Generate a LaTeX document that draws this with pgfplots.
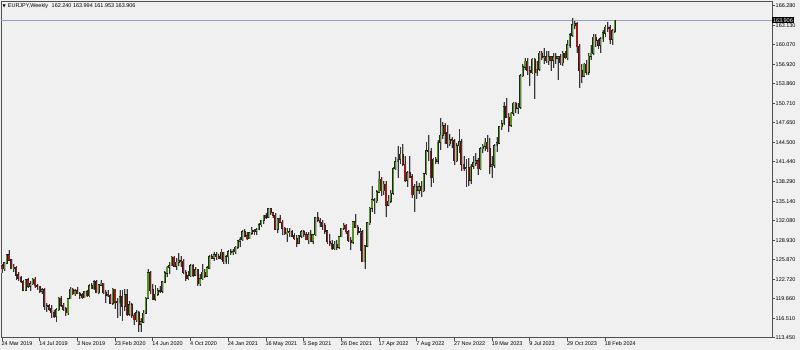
\documentclass[border=0pt]{standalone}
\usepackage{fontspec}
\setmainfont{Liberation Sans}
\newfontfamily\dejavu{DejaVu Sans}
\usepackage{pgfplots}
\usepackage{pgfplotstable}
\pgfplotsset{compat=1.18}

\definecolor{bgcol}{RGB}{240,240,240}
\definecolor{bull}{RGB}{80,152,30}
\definecolor{bear}{RGB}{160,24,24}
\definecolor{wickcol}{RGB}{55,55,55}
\definecolor{halocol}{RGB}{185,185,185}
\definecolor{outcol}{RGB}{35,35,35}
\definecolor{framecol}{RGB}{80,80,80}
\definecolor{pricecol}{RGB}{145,160,190}

\pgfplotstableread{
i o h l c
0 124.9 125.2 123.7 124.4
1 124.4 125.5 124.0 125.3
2 125.3 126.7 125.1 126.6
3 126.6 127.4 125.6 125.8
4 125.8 126.0 124.3 124.4
5 124.4 125.1 123.9 124.6
6 124.6 124.8 122.6 123.4
7 123.4 123.8 122.5 122.9
8 122.9 123.2 122.2 122.4
9 122.4 122.6 120.8 121.0
10 121.0 122.8 120.9 122.6
11 122.6 122.9 121.4 121.6
12 121.6 122.4 120.8 122.0
13 122.0 122.9 121.8 122.7
14 122.7 123.1 121.4 121.7
15 121.7 122.0 121.0 121.6
16 121.6 121.7 120.6 120.8
17 120.8 121.4 120.3 121.0
18 121.0 121.3 117.9 118.4
19 118.4 119.0 117.5 118.5
20 118.5 118.8 117.6 118.0
21 118.0 118.6 116.6 117.4
22 117.4 117.9 116.6 116.8
23 116.8 118.1 115.9 117.9
24 117.9 119.9 117.6 119.7
25 119.7 120.0 118.3 118.6
26 118.6 118.9 117.7 118.0
27 118.0 118.3 116.9 117.4
28 117.4 119.8 117.0 119.6
29 119.6 121.5 119.5 121.1
30 121.1 121.4 120.2 120.4
31 120.4 121.2 120.1 120.9
32 120.9 121.5 120.3 120.4
33 120.4 120.7 119.6 120.2
34 120.2 120.5 119.6 119.8
35 119.8 120.9 119.7 120.7
36 120.7 121.0 119.9 120.1
37 120.1 122.0 119.9 121.7
38 121.7 122.2 121.1 121.2
39 121.2 122.6 121.0 122.3
40 122.3 122.6 120.5 120.6
41 120.6 121.9 120.3 121.8
42 121.8 122.6 121.6 122.1
43 122.1 122.2 120.3 120.6
44 120.6 121.0 119.0 120.2
45 120.2 121.0 119.9 120.1
46 120.1 120.3 118.8 118.9
47 118.9 121.4 118.6 121.1
48 121.1 121.2 118.0 119.1
49 119.1 119.8 116.6 119.0
50 119.0 121.0 116.8 119.9
51 119.9 121.0 116.1 118.4
52 118.4 121.1 117.6 120.2
53 120.2 121.1 116.9 117.2
54 117.2 119.3 116.9 118.7
55 118.7 118.9 116.6 117.0
56 117.0 117.4 115.5 116.3
57 116.3 117.9 115.9 117.4
58 117.4 117.6 114.4 115.6
59 115.6 116.6 114.4 115.9
60 115.9 117.8 115.7 117.3
61 117.3 119.9 117.2 119.7
62 119.7 124.4 119.6 123.7
63 123.7 124.1 120.3 121.0
64 121.0 122.0 119.4 119.5
65 119.5 121.8 119.3 120.3
66 120.3 121.3 120.1 120.9
67 120.9 121.6 120.5 120.8
68 120.8 122.5 120.5 122.3
69 122.3 124.0 122.2 123.7
70 123.7 124.9 123.0 124.6
71 124.6 125.4 123.5 124.9
72 124.9 126.4 124.8 126.2
73 126.2 126.4 124.6 124.8
74 124.8 126.1 124.2 125.4
75 125.4 126.9 124.8 125.7
76 125.7 126.4 124.7 125.6
77 125.6 125.9 123.6 123.8
78 123.8 124.2 122.4 122.8
79 122.8 124.0 122.6 123.3
80 123.3 125.1 123.0 124.9
81 124.9 125.1 123.0 123.4
82 123.4 124.6 123.2 124.2
83 124.2 124.4 121.6 122.0
84 122.0 123.6 121.7 122.8
85 122.8 125.1 122.6 123.8
86 123.8 124.3 122.9 123.2
87 123.2 124.8 123.0 124.5
88 124.5 126.5 124.3 126.3
89 126.3 126.8 125.9 126.1
90 126.1 127.1 125.6 126.6
91 126.6 127.0 125.8 126.3
92 126.3 126.8 125.9 126.0
93 126.0 127.5 125.8 127.0
94 127.0 127.1 125.1 125.5
95 125.5 126.6 125.1 126.3
96 126.3 127.4 125.1 127.1
97 127.1 127.5 126.6 127.0
98 127.0 127.6 126.6 127.1
99 127.1 128.0 126.8 127.8
100 127.8 129.0 127.6 128.8
101 128.8 129.4 127.8 129.0
102 129.0 130.5 128.8 130.3
103 130.3 130.7 129.4 129.6
104 129.6 130.3 128.9 129.2
105 129.2 130.2 129.1 130.1
106 130.1 131.0 129.8 130.5
107 130.5 130.7 129.7 130.4
108 130.4 130.8 129.7 130.6
109 130.6 131.6 130.5 131.4
110 131.4 132.2 131.1 132.1
111 132.1 133.0 131.5 132.9
112 132.9 133.3 132.3 132.6
113 132.6 134.0 132.5 133.9
114 133.9 134.1 133.0 133.3
115 133.3 133.5 132.5 132.9
116 132.9 133.2 130.5 130.7
117 130.7 132.5 130.1 132.3
118 132.3 132.9 131.6 131.8
119 131.8 132.2 129.7 130.8
120 130.8 131.0 129.8 130.0
121 130.0 130.8 128.6 130.2
122 130.2 130.8 129.5 130.3
123 130.3 130.5 129.4 129.6
124 129.6 130.1 128.9 129.2
125 129.2 129.7 127.9 128.5
126 128.5 129.7 128.3 129.6
127 129.6 130.6 129.3 130.3
128 130.3 130.6 129.5 129.8
129 129.8 130.3 128.9 129.0
130 129.0 130.2 128.3 129.8
131 129.8 130.5 128.6 128.8
132 128.8 130.0 128.3 129.8
133 129.8 132.6 129.6 132.5
134 132.5 133.5 131.8 132.1
135 132.1 132.5 131.0 131.8
136 131.8 132.2 130.6 131.2
137 131.2 131.6 129.9 130.4
138 130.4 130.5 128.3 128.7
139 128.7 130.0 128.0 128.4
140 128.4 129.0 127.4 127.6
141 127.6 128.8 127.4 128.3
142 128.3 128.9 127.3 127.8
143 127.8 129.6 127.6 129.5
144 129.5 130.9 129.4 130.8
145 130.8 131.6 130.5 131.3
146 131.3 131.5 130.0 130.3
147 130.3 130.5 128.7 128.9
148 128.9 129.5 127.4 128.6
149 128.6 132.0 128.3 131.9
150 131.9 133.1 130.8 131.0
151 131.0 131.3 129.8 130.2
152 130.2 130.9 127.2 130.3
153 130.3 130.5 125.4 125.5
154 125.5 128.2 124.4 128.0
155 128.0 131.9 127.8 131.7
156 131.7 134.2 131.4 134.0
157 134.0 137.5 133.5 135.4
158 135.4 135.7 133.1 135.2
159 135.2 137.0 134.8 136.6
160 136.6 140.0 136.5 138.6
161 138.6 139.0 136.0 136.8
162 136.8 138.3 136.2 137.8
163 137.8 138.3 132.7 134.5
164 134.5 136.2 134.3 135.1
165 135.1 136.9 134.8 136.4
166 136.4 140.6 136.2 140.3
167 140.3 142.1 140.1 141.4
168 141.4 144.0 138.9 141.8
169 141.8 143.7 141.1 142.6
170 142.6 144.3 140.7 141.0
171 141.0 142.3 138.2 138.5
172 138.5 140.0 137.4 139.7
173 139.7 142.3 138.8 139.0
174 139.0 139.5 135.7 136.2
175 136.2 137.9 133.4 137.4
176 137.4 138.4 135.5 136.9
177 136.9 138.1 136.3 137.4
178 137.4 138.4 135.8 136.8
179 136.8 139.6 136.6 139.5
180 139.5 144.6 139.3 143.2
181 143.2 145.6 141.6 143.0
182 143.0 143.6 137.4 138.9
183 138.9 142.0 138.0 141.8
184 141.8 142.2 141.0 141.5
185 141.5 144.9 141.0 144.5
186 144.5 148.4 143.3 145.6
187 145.6 147.8 145.0 147.1
188 147.1 147.6 144.2 146.0
189 146.0 147.3 143.6 144.3
190 144.3 145.9 143.9 144.9
191 144.9 145.4 143.6 144.8
192 144.8 145.1 140.9 141.6
193 141.6 144.4 141.3 144.0
194 144.0 146.7 142.8 144.6
195 144.6 145.1 140.0 141.0
196 141.0 142.4 139.9 140.3
197 140.3 141.9 137.4 140.5
198 140.5 142.0 137.5 138.5
199 138.5 141.0 137.8 140.7
200 140.7 142.3 140.3 141.2
201 141.2 142.8 140.8 141.6
202 141.6 142.0 139.3 140.3
203 140.3 143.8 140.1 143.5
204 143.5 144.2 142.8 143.9
205 143.9 145.2 143.2 144.5
206 144.5 145.6 143.0 143.5
207 143.5 145.2 139.4 140.7
208 140.7 142.3 138.8 140.9
209 140.9 144.2 140.5 144.0
210 144.0 145.3 143.0 144.4
211 144.4 147.1 144.2 147.0
212 147.0 148.1 146.4 147.5
213 147.5 151.0 147.2 150.2
214 150.2 151.6 148.4 148.5
215 148.5 149.2 146.1 147.2
216 147.2 149.3 147.0 149.1
217 149.1 151.0 148.7 150.7
218 150.7 151.0 149.1 149.9
219 149.9 150.7 149.0 150.1
220 150.1 155.4 149.8 155.1
221 155.1 157.0 154.9 156.5
222 156.5 158.0 156.0 157.4
223 157.4 157.9 155.2 155.9
224 155.9 156.7 153.5 155.6
225 155.6 157.9 155.4 157.7
226 157.7 158.0 151.4 155.6
227 155.6 157.5 155.1 156.1
228 156.1 159.0 155.8 158.7
229 158.7 159.0 157.6 158.0
230 158.0 159.5 156.9 158.1
231 158.1 159.0 157.1 157.5
232 157.5 159.1 156.8 158.1
233 158.1 158.3 155.9 157.6
234 157.6 158.7 156.4 158.1
235 158.1 158.7 157.0 157.9
236 157.9 158.3 154.4 158.1
237 158.1 158.6 156.8 157.2
238 157.2 159.0 156.7 158.7
239 158.7 159.1 157.7 158.0
240 158.0 160.8 157.6 160.0
241 160.0 161.9 159.5 161.6
242 161.6 164.3 161.3 163.2
243 163.2 163.8 162.5 163.4
244 163.4 163.7 158.8 159.7
245 159.7 160.2 153.2 155.9
246 155.9 157.0 154.0 155.0
247 155.0 157.2 154.9 156.9
248 156.9 157.6 155.3 155.7
249 155.7 158.7 155.2 158.2
250 158.2 160.0 157.6 158.7
251 158.7 161.8 158.4 161.2
252 161.2 161.8 159.7 160.7
253 160.7 161.0 159.3 160.0
254 160.0 161.3 158.7 161.0
255 161.0 162.4 160.4 161.9
256 161.9 163.2 161.2 162.8
257 162.8 163.7 162.1 162.7
258 162.7 163.2 160.2 160.9
259 160.9 162.5 160.0 162.24
260 162.24 163.994 161.953 163.906
}\ohlc

\begin{document}
\begin{tikzpicture}
\fill[bgcol] (-1bp,-12.5bp) rectangle (799bp,337.5bp);
\begin{axis}[
  scale only axis, width=771bp, height=336.5bp,
  xmin=-0.42, xmax=326.8, ymin=113.45, ymax=167.0,
  axis line style={draw=framecol, line width=0.8bp},
  tick align=outside, major tick length=3bp,
  every tick/.style={draw=framecol, line width=0.6bp},
  ytick pos=right, yticklabel pos=right,
  xtick pos=bottom,
  ytick={166.28,163.13,160.07,156.92,153.86,150.71,147.65,144.5,141.44,138.29,135.14,132.08,128.93,125.87,122.72,119.66,116.51,113.45},
  yticklabels={166.280,163.130,160.070,156.920,153.860,150.710,147.650,144.500,141.440,138.290,135.140,132.080,128.930,125.870,122.720,119.660,116.510,113.450},
  xtick={0,16,32,48,64,80,96,112,128,144,160,176,192,208,224,240,256},
  xticklabels={24 Mar 2019,14 Jul 2019,3 Nov 2019,23 Feb 2020,14 Jun 2020,4 Oct 2020,24 Jan 2021,16 May 2021,5 Sep 2021,26 Dec 2021,17 Apr 2022,7 Aug 2022,27 Nov 2022,19 Mar 2023,9 Jul 2023,29 Oct 2023,18 Feb 2024},
  ticklabel style={font=\fontsize{5.5}{6.6}\selectfont, text=black},
  yticklabel style={anchor=west, inner sep=0pt, xshift=0.5bp},
  xticklabel style={anchor=north west, inner sep=0pt, xshift=-0.5bp, yshift=-0.5bp},
]
\addplot[pricecol, line width=0.7bp] coordinates {(-1,163.906) (330,163.906)};
\addplot[halocol, line width=1.9bp, quiver={u=0, v=\thisrow{h}-\thisrow{l}}] table[x expr=\thisrow{i}+0.15, y=l] {\ohlc};
\addplot[wickcol, line width=0.6bp, quiver={u=0, v=\thisrow{h}-\thisrow{l}}] table[x=i, y=l] {\ohlc};
\addplot[outcol, line width=2.0bp, quiver={u=0, v={abs(\thisrow{c}-\thisrow{o})+0.2}}] table[x=i, y expr={min(\thisrow{o},\thisrow{c})-0.1}] {\ohlc};
\addplot[bull, line width=1.2bp, quiver={u=0, v={max(\thisrow{c}-\thisrow{o},0)}}] table[x=i, y=o] {\ohlc};
\addplot[bear, line width=1.2bp, quiver={u=0, v={max(\thisrow{o}-\thisrow{c},0)}}] table[x=i, y=c] {\ohlc};
\coordinate (pl) at (axis cs:326.8,163.906);
\coordinate (tl) at (rel axis cs:0,1);
\end{axis}
\node[anchor=west, inner sep=0pt, font=\fontsize{5.5}{6.6}\selectfont, xshift=1.5bp, yshift=-5bp] at (tl) {{\dejavu\fontsize{4.2}{5}\selectfont ▼}\hspace{2bp}EURJPY,Weekly\hspace{3.5bp}162.240 163.994 161.953 163.906};
\node[anchor=west, fill=black, text=white, inner xsep=0.8bp, inner ysep=1.1bp, font=\fontsize{5.5}{6.6}\selectfont] at (pl) {163.906};
\pgfresetboundingbox
\path (-1bp,-12.5bp) rectangle (799bp,337.5bp);
\end{tikzpicture}
\end{document}
